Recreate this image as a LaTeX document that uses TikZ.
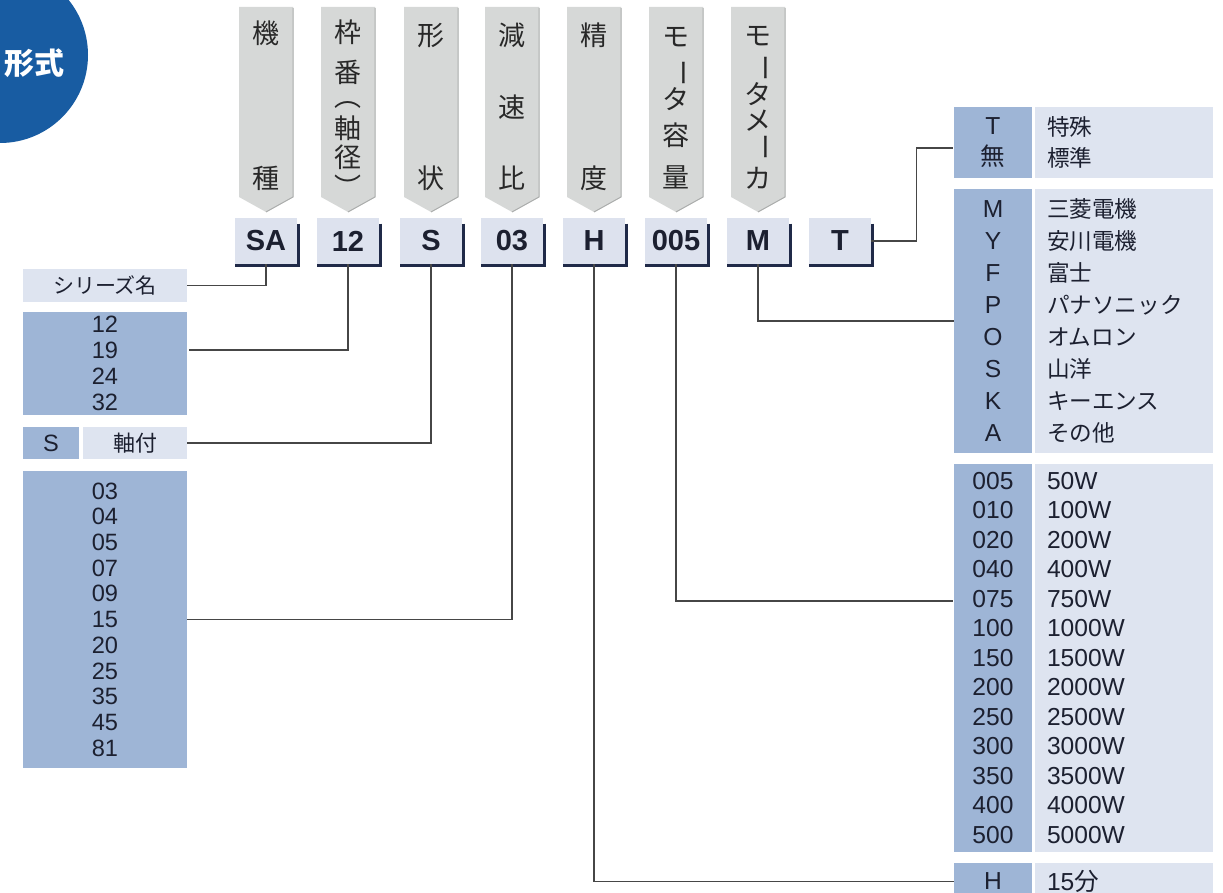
\documentclass[tikz,border=0pt]{standalone}
\usepackage{fontspec}
\setmainfont{Liberation Sans}
\newfontfamily\jp{Noto Sans CJK JP}

\definecolor{titleblue}{RGB}{24,92,162}
\definecolor{tabgray}{RGB}{214,216,215}
\definecolor{tabedge}{RGB}{170,172,171}
\definecolor{tabink}{RGB}{40,40,40}
\definecolor{boxlight}{RGB}{221,226,238}
\definecolor{boxshadow}{RGB}{32,42,72}
\definecolor{cellmid}{RGB}{158,181,214}
\definecolor{celllight}{RGB}{222,228,240}
\definecolor{lineink}{RGB}{70,70,70}
\definecolor{inkcol}{RGB}{28,32,48}

\begin{document}
\begin{tikzpicture}[x=0.5pt,y=-0.5pt,
  every node/.style={inner sep=0pt,text=inkcol},
  codebox/.style={fill=boxlight,minimum width=31pt,minimum height=23pt,font=\bfseries\fontsize{14.5}{14.5}\selectfont},
  tabtxt/.style={font=\jp\fontsize{13.5}{13.5}\selectfont,text=tabink,text height=11.9pt,text depth=1.6pt},
  codecell/.style={fill=cellmid,minimum width=39pt,align=center},
  desccell/.style={fill=celllight,text width=77pt,inner xsep=6pt,align=left},
  leftcell/.style={fill=cellmid,minimum width=82pt,align=center},
  conn/.style={draw=lineink,line width=0.6pt}]
\useasboundingbox (0,0) rectangle (1223,893);
\clip (0,0) rectangle (1223,893);
% title disc
\fill[titleblue] (0,55) circle (44pt);
\node[font=\jp\bfseries\fontsize{15}{15}\selectfont,text=white] (title) at (34,63) {形式};
% grey pennants
\foreach \tx in {266,348,431,512,594,676,758}{
  \fill[tabgray] ({\tx-27},7) -- ({\tx+27},7) -- ({\tx+27},197) -- (\tx,212) -- ({\tx-27},197) -- cycle;
  \draw[tabedge,line width=0.5pt] ({\tx+27},8) -- ({\tx+27},197) -- (\tx,212);
}
\foreach \c/\ty [count=\i] in {機/33,種/178} \node[tabtxt] (kisyu\i) at (266,\ty) {\c};
\foreach \c/\ty [count=\i] in {枠/32,番/72,︵/96,軸/128,径/157,︶/187} \node[tabtxt] (waku\i) at (348,\ty) {\c};
\foreach \c/\ty [count=\i] in {形/35,状/178} \node[tabtxt] (keijo\i) at (431,\ty) {\c};
\foreach \c/\ty [count=\i] in {減/35,速/107,比/178} \node[tabtxt] (gensoku\i) at (512,\ty) {\c};
\foreach \c/\ty [count=\i] in {精/35,度/178} \node[tabtxt] (seido\i) at (594,\ty) {\c};
\foreach \c/\ty/\r/\dx [count=\i] in {モ/36/0/0,ー/73/-90/8,タ/99/0/0,容/135/0/0,量/177/0/0} \node[tabtxt,rotate=\r] (yoryo\i) at ({676+\dx},\ty) {\c};
\foreach \c/\ty/\r/\dx [count=\i] in {モ/35/0/0,ー/68/-90/8,タ/94/0/0,メ/120/0/0,ー/147/-90/8,カ/178/0/0} \node[tabtxt,rotate=\r] (maker\i) at ({758+\dx},\ty) {\c};
% model code boxes
\node[codebox] (sa) at (266,241) {SA};
\node[codebox] (fr) at (348,241) {12};
\node[codebox] (sh) at (431,241) {S};
\node[codebox] (rt) at (512,241) {03};
\node[codebox] (pr) at (594,241) {H};
\node[codebox] (cp) at (676,241) {005};
\node[codebox] (mk) at (758,241) {M};
\node[codebox] (op) at (840,241) {T};
\foreach \b in {sa,fr,sh,rt,pr,cp,mk,op}
  \draw[boxshadow,line width=1.3pt] ([xshift=0.65pt,yshift=-3pt]\b.north east) -- ([xshift=0.65pt,yshift=-0.65pt]\b.south east) -- ([yshift=-0.65pt]\b.south west);
% left tables
\node[fill=celllight,minimum width=82pt,minimum height=16.5pt,font=\jp\fontsize{10.5}{12}\selectfont] (sername) at (105,285.5) {シリーズ名};
\node[leftcell,minimum height=51.5pt,font=\fontsize{11.8}{13}\selectfont] (frame) at (105,363.5) {12\\19\\24\\32};
\node[fill=cellmid,minimum width=28pt,minimum height=16pt,font=\fontsize{11.8}{13}\selectfont] (shcode) at (51,443) {S};
\node[fill=celllight,minimum width=52pt,minimum height=16pt,font=\jp\fontsize{11}{13}\selectfont] (shdesc) at (135,443) {軸付};
\node[leftcell,minimum height=148.5pt,font=\fontsize{11.8}{12.85}\selectfont] (ratio) at (105,619.5) {03\\04\\05\\07\\09\\15\\20\\25\\35\\45\\81};
% right tables
\node[codecell,minimum height=35.5pt,font=\fontsize{12.3}{15.5}\selectfont] (tcode) at (993,142.5) {T\\{\jp 無}};
\node[desccell,minimum height=35.5pt,font=\jp\fontsize{11.3}{15.5}\selectfont] (tdesc) at (1124,142.5) {特殊\\標準};
\node[codecell,minimum height=132pt,font=\fontsize{12.3}{16}\selectfont] (mkcode) at (993,321) {M\\Y\\F\\P\\O\\S\\K\\A};
\node[desccell,minimum height=132pt,font=\jp\fontsize{11.3}{16}\selectfont] (mkdesc) at (1124,321) {三菱電機\\安川電機\\富士\\パナソニック\\オムロン\\山洋\\キーエンス\\その他};
\node[codecell,minimum height=194pt,font=\fontsize{12.3}{14.75}\selectfont] (cpcode) at (993,658) {005\\010\\020\\040\\075\\100\\150\\200\\250\\300\\350\\400\\500};
\node[desccell,minimum height=194pt,font=\fontsize{12.3}{14.75}\selectfont] (cpdesc) at (1124,658) {50W\\100W\\200W\\400W\\750W\\1000W\\1500W\\2000W\\2500W\\3000W\\3500W\\4000W\\5000W};
\node[codecell,minimum height=18.5pt,font=\fontsize{12.3}{14}\selectfont] (prcode) at (993,881.5) {H};
\node[desccell,minimum height=18.5pt,font=\fontsize{12.3}{14}\selectfont] (prdesc) at (1124,881.5) {15{\jp 分}};
% connectors
\coordinate (frpin) at (189,350);
\coordinate (cppin) at (953,601);
\coordinate (oppin) at (953,148);
\draw[conn] (sa.south) |- (sername.east);
\draw[conn] (fr.south) |- (frpin);
\draw[conn] (sh.south) |- (shdesc.east);
\draw[conn] (rt.south) |- (ratio.east);
\draw[conn] (pr.south) |- (prcode.west);
\draw[conn] (cp.south) |- (cppin);
\draw[conn] (mk.south) |- (mkcode.west);
\draw[conn] (op.east) -- ++(45,0) |- (oppin);
\end{tikzpicture}
\end{document}
